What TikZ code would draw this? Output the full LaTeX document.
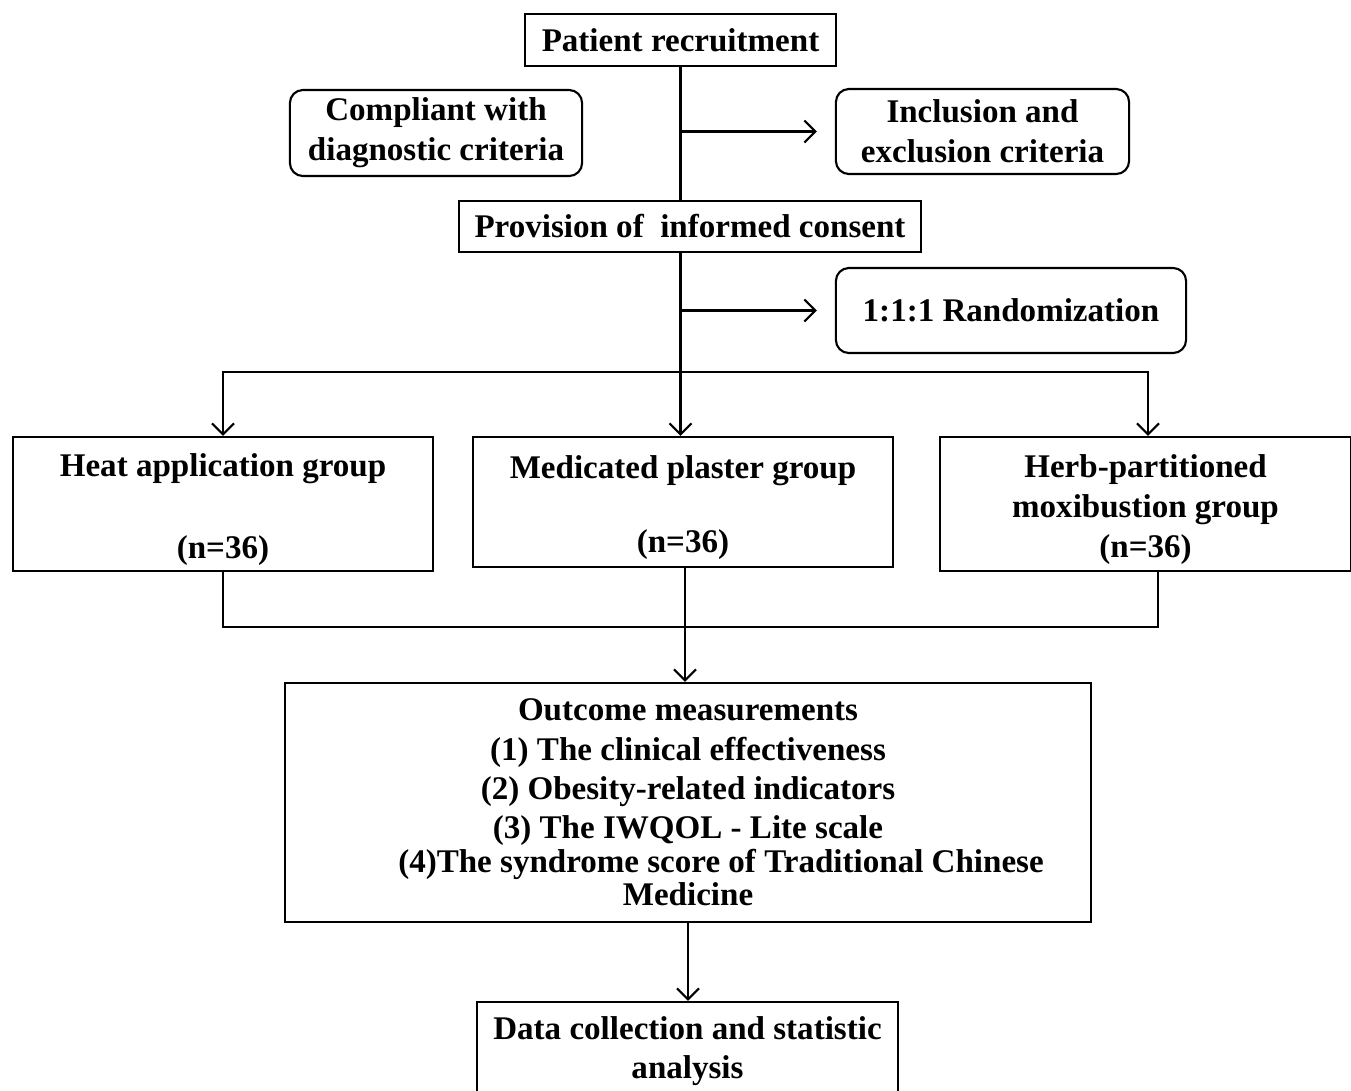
\documentclass[tikz,border=0pt]{standalone}
\usepackage{fontspec}
\setmainfont{Liberation Serif}
\usetikzlibrary{arrows.meta}
\begin{document}
\begin{tikzpicture}[x=0.01cm, y=-0.01cm, line width=0.6pt,
  caja/.style={draw, align=center, inner sep=0pt,
    font=\fontsize{9.4}{11.3}\selectfont\bfseries},
  redonda/.style={caja, rounded corners=0.13cm},
  flecha/.style={-{Straight Barb[length=1.1mm, width=2.2mm]}}]
  \useasboundingbox (0,0) rectangle (1351,1090);
  % las cajas de arriba
  \node[caja, minimum width=3.11cm, minimum height=0.52cm] (recruit) at (680.5,40) {Patient recruitment};
  \node[redonda, minimum width=2.92cm, minimum height=0.86cm] (comply) at (436,133)
    {Compliant with\\diagnostic criteria};
  \node[redonda, minimum width=2.93cm, minimum height=0.85cm] (inclusion) at (982.5,131.5)
    {Inclusion and\\exclusion criteria};
  \node[caja, minimum width=4.62cm, minimum height=0.51cm] (consent) at (690,226.5)
    {Provision of\ \ informed consent};
  \node[redonda, minimum width=3.50cm, minimum height=0.85cm] (random) at (1011,310.5)
    {1:1:1 Randomization};
  % los tres grupos
  \node[caja, minimum width=4.20cm, minimum height=1.34cm] (heat) at (223,504)
    {\rule{0pt}{0.34cm}Heat application group\\[0.42cm](n=36)};
  \node[caja, minimum width=4.20cm, minimum height=1.30cm] (plaster) at (683,502)
    {\rule{0pt}{0.34cm}Medicated plaster group\\[0.35cm](n=36)};
  \node[caja, minimum width=4.11cm, minimum height=1.34cm] (moxa) at (1145.5,504)
    {\rule{0pt}{0.34cm}Herb-partitioned\\moxibustion group\\(n=36)};
  % resultados y datos
  \node[caja, minimum width=8.06cm, minimum height=2.39cm,
    font=\fontsize{9.4}{11.2}\selectfont\bfseries] (outcome) at (688,802.5)
    {Outcome measurements\\(1) The clinical effectiveness\\(2) Obesity-related indicators\\
     (3) The IWQOL - Lite scale\\[-0.06cm]\hspace*{0.66cm}(4)The syndrome score of Traditional Chinese\\[-0.06cm]Medicine};
  \node[caja, minimum width=4.21cm, minimum height=0.98cm] (data) at (687.5,1051)
    {Data collection and statistic\\analysis};
  % el tronco y las flechas laterales
  \draw (recruit.south) -- (recruit.south |- consent.north);
  \draw[flecha, shorten >=0.18cm] (recruit.south |- inclusion.west) -- (inclusion.west);
  \draw[flecha, shorten >=0.18cm] (recruit.south |- random.west) -- (random.west);
  \draw[flecha] (recruit.south |- consent.south) -- (recruit.south |- plaster.north);
  % el reparto en tres grupos
  \coordinate (split) at (681,372);
  \draw[flecha] (split) -| (heat.north);
  \draw[flecha] (split) -| ([xshift=0.025cm]moxa.north);
  % la union hacia los resultados
  \draw (heat.south) -- ++(0,55) -| ([xshift=0.125cm]moxa.south);
  \draw[flecha] ([xshift=0.02cm]plaster.south) -- ([xshift=0.02cm]plaster.south |- outcome.north);
  \draw[flecha] (outcome.south) -- (outcome.south |- data.north);
\end{tikzpicture}
\end{document}
